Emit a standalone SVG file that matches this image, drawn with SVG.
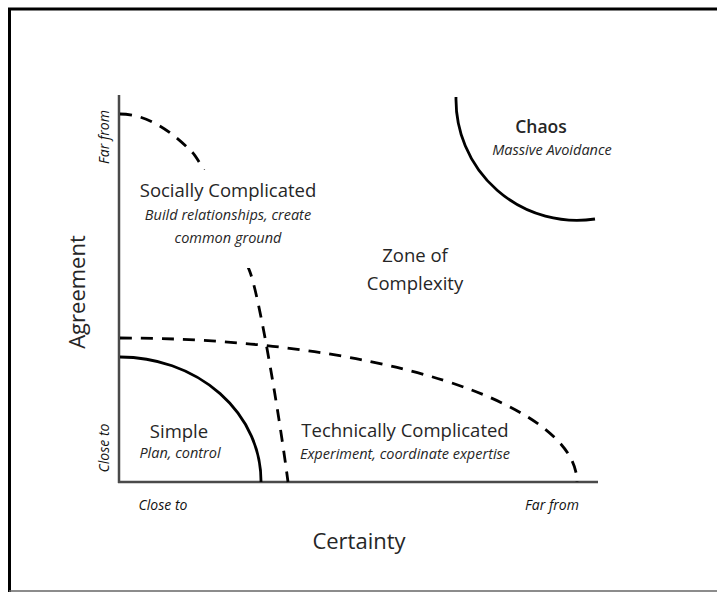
<svg xmlns="http://www.w3.org/2000/svg" width="717" height="592" viewBox="0 0 717 592">
  <style>
    text { font-family: "Open Sans", "Noto Sans", "Liberation Sans", sans-serif; fill: #262626; }
    .big { font-size: 18.5px; }
    .it { font-size: 14.5px; font-style: italic; }
    .ax { font-size: 22px; }
    .axs { font-size: 14px; font-style: italic; fill: #111; }
    .dash { fill: none; stroke: #000; stroke-width: 2.8; stroke-dasharray: 12 9; }
    .solid { fill: none; stroke: #000; stroke-width: 2.8; }
    .axis { fill: none; stroke: #4a4a4a; stroke-width: 2.5; }
  </style>
  <rect x="0" y="0" width="717" height="592" fill="#fff"/>
  <g id="frame">
    <path d="M9.5,592 V9 H717" fill="none" stroke="#000" stroke-width="3"/>
    <line x1="9" y1="591" x2="717" y2="591" stroke="#666" stroke-width="1.5"/>
  </g>

  <g id="axes">
    <line class="axis" x1="119" y1="95" x2="119" y2="483"/>
    <line class="axis" x1="118" y1="482" x2="598" y2="482"/>
  </g>

  <g id="connectors">
    <path class="dash" d="M120,114 C150,114 175,135 192,152 C204,164 240,245 250,272 C260,299 280,420 288,482"/>
    <path class="dash" d="M120,338 A457,144 0 0 1 577,482"/>
    <path class="solid" d="M120,357 A141,124 0 0 1 261,482"/>
    <path class="solid" d="M456,97 A121,121 0 0 0 595,219"/>
  </g>

  <g id="socially-complicated">
    <rect x="136" y="170" width="186" height="98" fill="#fff"/>
    <text class="big" x="228" y="197" text-anchor="middle">Socially Complicated</text>
    <text class="it" x="228" y="220" text-anchor="middle">Build relationships, create</text>
    <text class="it" x="228" y="243" text-anchor="middle">common ground</text>
  </g>

  <g id="zone-of-complexity">
    <text class="big" x="415" y="262" text-anchor="middle">Zone of</text>
    <text class="big" x="415" y="290" text-anchor="middle">Complexity</text>
  </g>

  <g id="chaos">
    <text x="541" y="133" text-anchor="middle" style="font-size:17.5px;font-weight:600;">Chaos</text>
    <text class="it" x="552" y="155" text-anchor="middle">Massive Avoidance</text>
  </g>

  <g id="simple">
    <text class="big" x="179" y="438" text-anchor="middle">Simple</text>
    <text class="it" x="180" y="458" text-anchor="middle">Plan, control</text>
  </g>

  <g id="technically-complicated">
    <text class="big" x="405" y="437" text-anchor="middle">Technically Complicated</text>
    <text class="it" x="405" y="459" text-anchor="middle">Experiment, coordinate expertise</text>
  </g>

  <g id="axis-labels">
    <text class="axs" text-anchor="middle" transform="translate(109,137) rotate(-90)">Far from</text>
    <text class="axs" text-anchor="middle" transform="translate(109,448) rotate(-90)">Close to</text>
    <text class="ax" text-anchor="middle" transform="translate(85,292) rotate(-90)">Agreement</text>
    <text class="axs" x="163" y="510" text-anchor="middle">Close to</text>
    <text class="axs" x="552" y="510" text-anchor="middle">Far from</text>
    <text class="ax" x="359" y="549" text-anchor="middle">Certainty</text>
  </g>
</svg>
